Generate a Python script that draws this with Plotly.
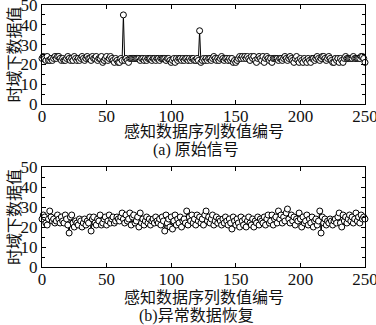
import plotly.graph_objects as go

# (a) original signal, index 0..250
orig_vals = [
    23,24,23,22,24,22,22,23,22,23,
    24,23,24,24,23,22,23,22,22,23,
    24,23,22,23,22,24,23,22,23,22,
    23,24,23,22,23,24,23,23,22,24,
    23,23,24,22,23,23,24,21,22,23,
    24,22,23,24,23,22,21,23,22,21,
    21,23,22,45,22,23,22,21,23,23,
    23,23,23,23,23,23,22,23,23,22,
    23,22,23,23,23,22,23,23,22,23,
    23,22,23,23,23,23,22,23,23,22,
    21,22,23,21,23,22,23,23,22,23,
    22,23,23,22,23,22,23,23,22,22,
    23,22,37,21,22,23,22,23,22,23,
    23,22,23,24,23,22,23,22,23,24,
    23,22,23,23,22,23,22,23,21,22,
    21,22,23,24,23,24,23,24,23,24,
    23,22,24,23,24,22,21,23,24,23,
    22,24,21,23,24,23,22,23,21,23,
    23,23,23,22,23,23,22,23,24,23,
    22,23,24,23,22,21,23,24,22,21,
    23,22,21,23,22,21,23,22,21,23,
    23,22,23,24,23,22,23,24,24,23,
    22,23,24,23,22,21,21,23,22,23,
    21,23,22,21,23,24,23,23,23,23,
    23,24,23,23,23,23,23,24,24,23,
    21,
]

# (b) recovered data, index 0..250
recov_vals = [
    24,26,25,22,21,24,28,25,23,24,
    22,23,26,24,22,25,23,22,26,24,
    21,17,25,26,22,20,23,22,21,24,
    23,20,22,24,21,23,22,25,18,24,
    25,22,21,24,23,26,21,22,24,25,
    21,23,26,22,24,25,22,23,25,24,
    23,25,27,24,22,26,23,24,27,21,
    25,26,22,23,25,20,27,22,24,21,
    23,25,22,24,21,23,24,22,25,23,
    22,24,21,25,23,18,26,22,24,20,
    25,19,23,26,21,24,22,25,20,23,
    24,22,28,21,25,23,26,22,24,21,
    26,23,25,22,24,21,26,28,23,25,
    22,24,26,21,23,25,22,24,23,21,
    24,22,25,23,21,24,22,19,25,23,
    21,24,22,20,25,23,21,24,20,23,
    25,22,21,24,20,23,22,25,21,24,
    23,22,25,21,24,26,22,23,26,21,
    24,25,22,28,24,26,22,25,23,27,
    29,24,22,26,23,25,21,24,23,27,
    24,20,25,22,23,26,21,24,22,25,
    20,23,24,21,23,28,17,25,22,24,
    21,23,22,24,23,21,23,24,22,25,
    27,22,20,26,23,25,22,24,26,23,
    25,22,24,27,23,25,22,26,24,25,
    24,
]

x_ticks = [0, 50, 100, 150, 200, 250]
y_ticks = [0, 10, 20, 30, 40, 50]
x_title = "感知数据序列数值编号"
y_title = "时域下数据值"
caption_a = "(a) 原始信号"
caption_b = "(b)异常数据恢复"

FONT = "Liberation Serif, Noto Sans CJK SC, serif"
W, H = 376, 325

def px_x(p):
    return p / W

def px_y(p):
    return 1 - p / H

fig = go.Figure()

marker = dict(symbol="circle", size=6, color="white",
              line=dict(color="black", width=1))

fig.add_trace(go.Scatter(x=list(range(len(orig_vals))), y=orig_vals,
                         mode="lines+markers", line=dict(color="black", width=1),
                         marker=marker, xaxis="x", yaxis="y", showlegend=False,
                         cliponaxis=False))
fig.add_trace(go.Scatter(x=list(range(len(recov_vals))), y=recov_vals,
                         mode="lines+markers", line=dict(color="black", width=1),
                         marker=marker, xaxis="x2", yaxis="y2", showlegend=False,
                         cliponaxis=False))

axis_common = dict(showline=True, linecolor="black", linewidth=1, mirror="ticks",
                   ticks="inside", ticklen=4, tickcolor="black", showgrid=False,
                   zeroline=False, automargin=False, ticklabeloverflow="allow",
                   tickfont=dict(family=FONT, size=17, color="#111"))

xd = [px_x(42), px_x(365)]
fig.update_layout(
    template="none",
    width=W, height=H, margin=dict(l=0, r=0, t=0, b=0, pad=0),
    paper_bgcolor="white", plot_bgcolor="white",
    xaxis=dict(domain=xd, range=[0, 250], tickvals=x_ticks, anchor="y",
               ticklabelstandoff=-3, **axis_common),
    yaxis=dict(domain=[px_y(104), px_y(5)], range=[0, 50], tickvals=y_ticks, anchor="x",
               minor=dict(dtick=5, ticks="inside", ticklen=3, tickcolor="black"),
               **axis_common),
    xaxis2=dict(domain=xd, range=[0, 250], tickvals=x_ticks, anchor="y2",
                ticklabelstandoff=-3, **axis_common),
    yaxis2=dict(domain=[px_y(267), px_y(167)], range=[0, 50], tickvals=y_ticks, anchor="x2",
                minor=dict(dtick=5, ticks="inside", ticklen=3, tickcolor="black"),
                **axis_common),
)

txt = dict(family=FONT, size=16, color="#111")
ann = []
for yc, xt_y, cap_y, cap in [((5 + 104) / 2, 131, 150, caption_a),
                              ((167 + 267) / 2, 297, 316, caption_b)]:
    ann.append(dict(text=y_title, x=px_x(14), y=px_y(yc), xref="paper", yref="paper",
                    textangle=-90, showarrow=False, font=txt,
                    xanchor="center", yanchor="middle"))
    ann.append(dict(text=x_title, x=px_x(204), y=px_y(xt_y), xref="paper", yref="paper",
                    showarrow=False, font=txt, xanchor="center", yanchor="middle"))
    ann.append(dict(text=cap, x=px_x(196), y=px_y(cap_y), xref="paper", yref="paper",
                    showarrow=False, font=txt, xanchor="center", yanchor="middle"))
fig.update_layout(annotations=ann)

fig.write_html("out.html", config={"displayModeBar": False},
               post_script="document.body.style.margin='0';document.body.style.overflow='hidden';")
